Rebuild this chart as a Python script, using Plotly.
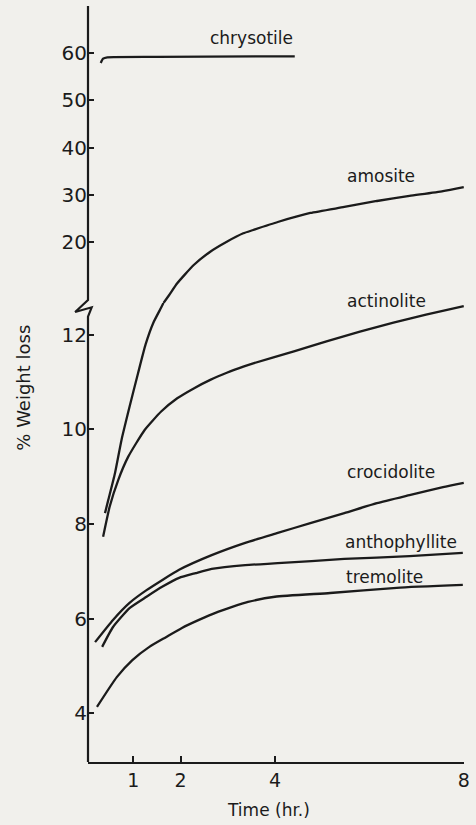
import plotly.graph_objects as go

# ---------------- data ----------------
time_ticks = [1, 2, 4, 8]
lower_ticks = [4, 6, 8, 10, 12]
upper_ticks = [20, 30, 40, 50, 60]

chrysotile_t = [0.31, 0.36, 0.45, 1.5, 4.42]
chrysotile_w = [57.9, 58.8, 59.1, 59.2, 59.3]

# amosite runs across the axis break: lower-scale part and upper-scale part
amosite_lo_t = [0.40, 0.47, 0.61, 0.75, 0.92, 1.10, 1.26, 1.42, 1.59, 1.64]
amosite_lo_w = [8.23, 8.51, 9.07, 9.78, 10.48, 11.19, 11.80, 12.25, 12.58, 12.68]
amosite_hi_t = [1.64, 1.76, 1.93, 2.28, 2.63, 2.98, 3.33, 3.54, 4.06, 4.75, 5.47, 6.16, 6.85, 7.56, 8.0]
amosite_hi_w = [7.09, 8.78, 11.26, 15.13, 17.95, 20.06, 21.84, 22.54, 24.23, 26.14, 27.41, 28.68, 29.74, 30.79, 31.64]

actinolite_t = [0.36, 0.50, 0.68, 0.89, 1.24, 1.59, 1.93, 2.28, 2.63, 2.98, 3.33, 3.54, 4.42, 5.11, 5.80, 6.51, 7.20, 8.0]
actinolite_w = [7.73, 8.37, 8.93, 9.42, 9.99, 10.38, 10.66, 10.87, 11.05, 11.20, 11.33, 11.40, 11.66, 11.87, 12.07, 12.26, 12.43, 12.61]

crocidolite_t = [0.19, 0.57, 0.92, 1.28, 1.97, 2.66, 3.37, 4.06, 4.75, 5.47, 6.16, 6.85, 7.56, 8.0]
crocidolite_w = [5.50, 5.97, 6.33, 6.60, 7.03, 7.34, 7.60, 7.81, 8.02, 8.23, 8.44, 8.61, 8.78, 8.87]

anthophyllite_t = [0.34, 0.57, 0.92, 1.28, 1.61, 1.97, 2.32, 2.66, 3.37, 4.06, 5.47, 6.85, 7.98]
anthophyllite_w = [5.40, 5.82, 6.22, 6.46, 6.67, 6.86, 6.96, 7.05, 7.13, 7.17, 7.26, 7.32, 7.39]

tremolite_t = [0.23, 0.65, 0.98, 1.34, 1.70, 2.03, 2.39, 2.74, 3.08, 3.43, 4.0, 5.17, 6.58, 7.98]
tremolite_w = [4.13, 4.76, 5.12, 5.40, 5.61, 5.80, 5.97, 6.12, 6.24, 6.35, 6.46, 6.54, 6.65, 6.71]

labels = ["chrysotile", "amosite", "actinolite", "crocidolite", "anthophyllite", "tremolite"]
label_t = [3.51, 6.24, 6.37, 6.45, 6.66, 6.32]
label_w = [63.2, 33.9, 7.5, 9.10, 7.62, 6.88]
label_axis = ["y2", "y2", "y2", "y", "y", "y"]

# ---------------- layout constants ----------------
W, H = 476, 825
L, R, T, B = 88, 8, 6, 63
plot_h = H - T - B
split_px = 303            # page y of the boundary between the two scales
split = (H - B - split_px) / plot_h

INK = "#1b1b1b"
BG = "#f1f0ec"
FONT = "DejaVu Sans"

fig = go.Figure()
line = dict(color=INK, width=2.3, shape="spline", smoothing=0.5)


def add(t, w, axis):
    fig.add_trace(go.Scatter(x=t, y=w, mode="lines", line=line, yaxis=axis,
                             xaxis="x", hoverinfo="skip", showlegend=False))


add(chrysotile_t, chrysotile_w, "y2")
add(amosite_lo_t, amosite_lo_w, "y")
add(amosite_hi_t, amosite_hi_w, "y2")
add(actinolite_t, actinolite_w, "y")
add(crocidolite_t, crocidolite_w, "y")
add(anthophyllite_t, anthophyllite_w, "y")
add(tremolite_t, tremolite_w, "y")

for name, t, w, ax in zip(labels, label_t, label_w, label_axis):
    fig.add_annotation(x=t, y=w, xref="x", yref=ax, text=name, showarrow=False,
                       font=dict(family=FONT, size=17, color=INK),
                       xanchor="center", yanchor="middle")


# axis titles
def fx(px):
    return (px - L) / (W - L - R)


def fy(py):
    return (H - B - py) / plot_h


fig.add_annotation(x=fx(22), y=fy(388), xref="paper", yref="paper",
                   text="% Weight loss", textangle=-90, showarrow=False,
                   font=dict(family=FONT, size=18, color=INK),
                   xanchor="center", yanchor="middle")
fig.add_annotation(x=fx(270), y=fy(810), xref="paper", yref="paper",
                   text="Time (hr.)", showarrow=False,
                   font=dict(family=FONT, size=17, color=INK),
                   xanchor="center", yanchor="middle")

# vertical axis line with the break zig-zag
pts = [(L, T), (L, 300), (75, 312), (91.7, 307.3), (L, 316.7), (L, H - B)]
path = "M " + " L ".join(f"{fx(px):.5f},{fy(py):.5f}" for px, py in pts)
fig.add_shape(type="path", path=path, xref="paper", yref="paper",
              line=dict(color=INK, width=2.2), layer="above")

tickfont = dict(family=FONT, size=20, color=INK)
fig.update_layout(
    width=W, height=H,
    margin=dict(l=L, r=R, t=T, b=B),
    paper_bgcolor=BG, plot_bgcolor=BG,
    showlegend=False,
    xaxis=dict(range=[0.04, 8.005], tickvals=time_ticks, ticktext=[str(v) for v in time_ticks],
               ticks="inside", ticklen=6, tickwidth=1.6, tickcolor=INK,
               showline=True, linecolor=INK, linewidth=2.2, mirror=False,
               showgrid=False, zeroline=False,
               tickfont=dict(family=FONT, size=19, color=INK)),
    yaxis=dict(domain=[0, split], range=[2.963, 12.677], tickvals=lower_ticks,
               ticks="inside", ticklen=6, tickwidth=1.6, tickcolor=INK,
               showline=False, showgrid=False, zeroline=False, tickfont=tickfont,
               anchor="x"),
    yaxis2=dict(domain=[split, 1], range=[7.09, 69.95], tickvals=upper_ticks,
                ticks="inside", ticklen=6, tickwidth=1.6, tickcolor=INK,
                showline=False, showgrid=False, zeroline=False, tickfont=tickfont,
                anchor="x"),
)

fig.write_html("out.html", config={"displayModeBar": False},
               post_script="document.body.style.margin='0';document.body.style.background='%s';" % BG)
